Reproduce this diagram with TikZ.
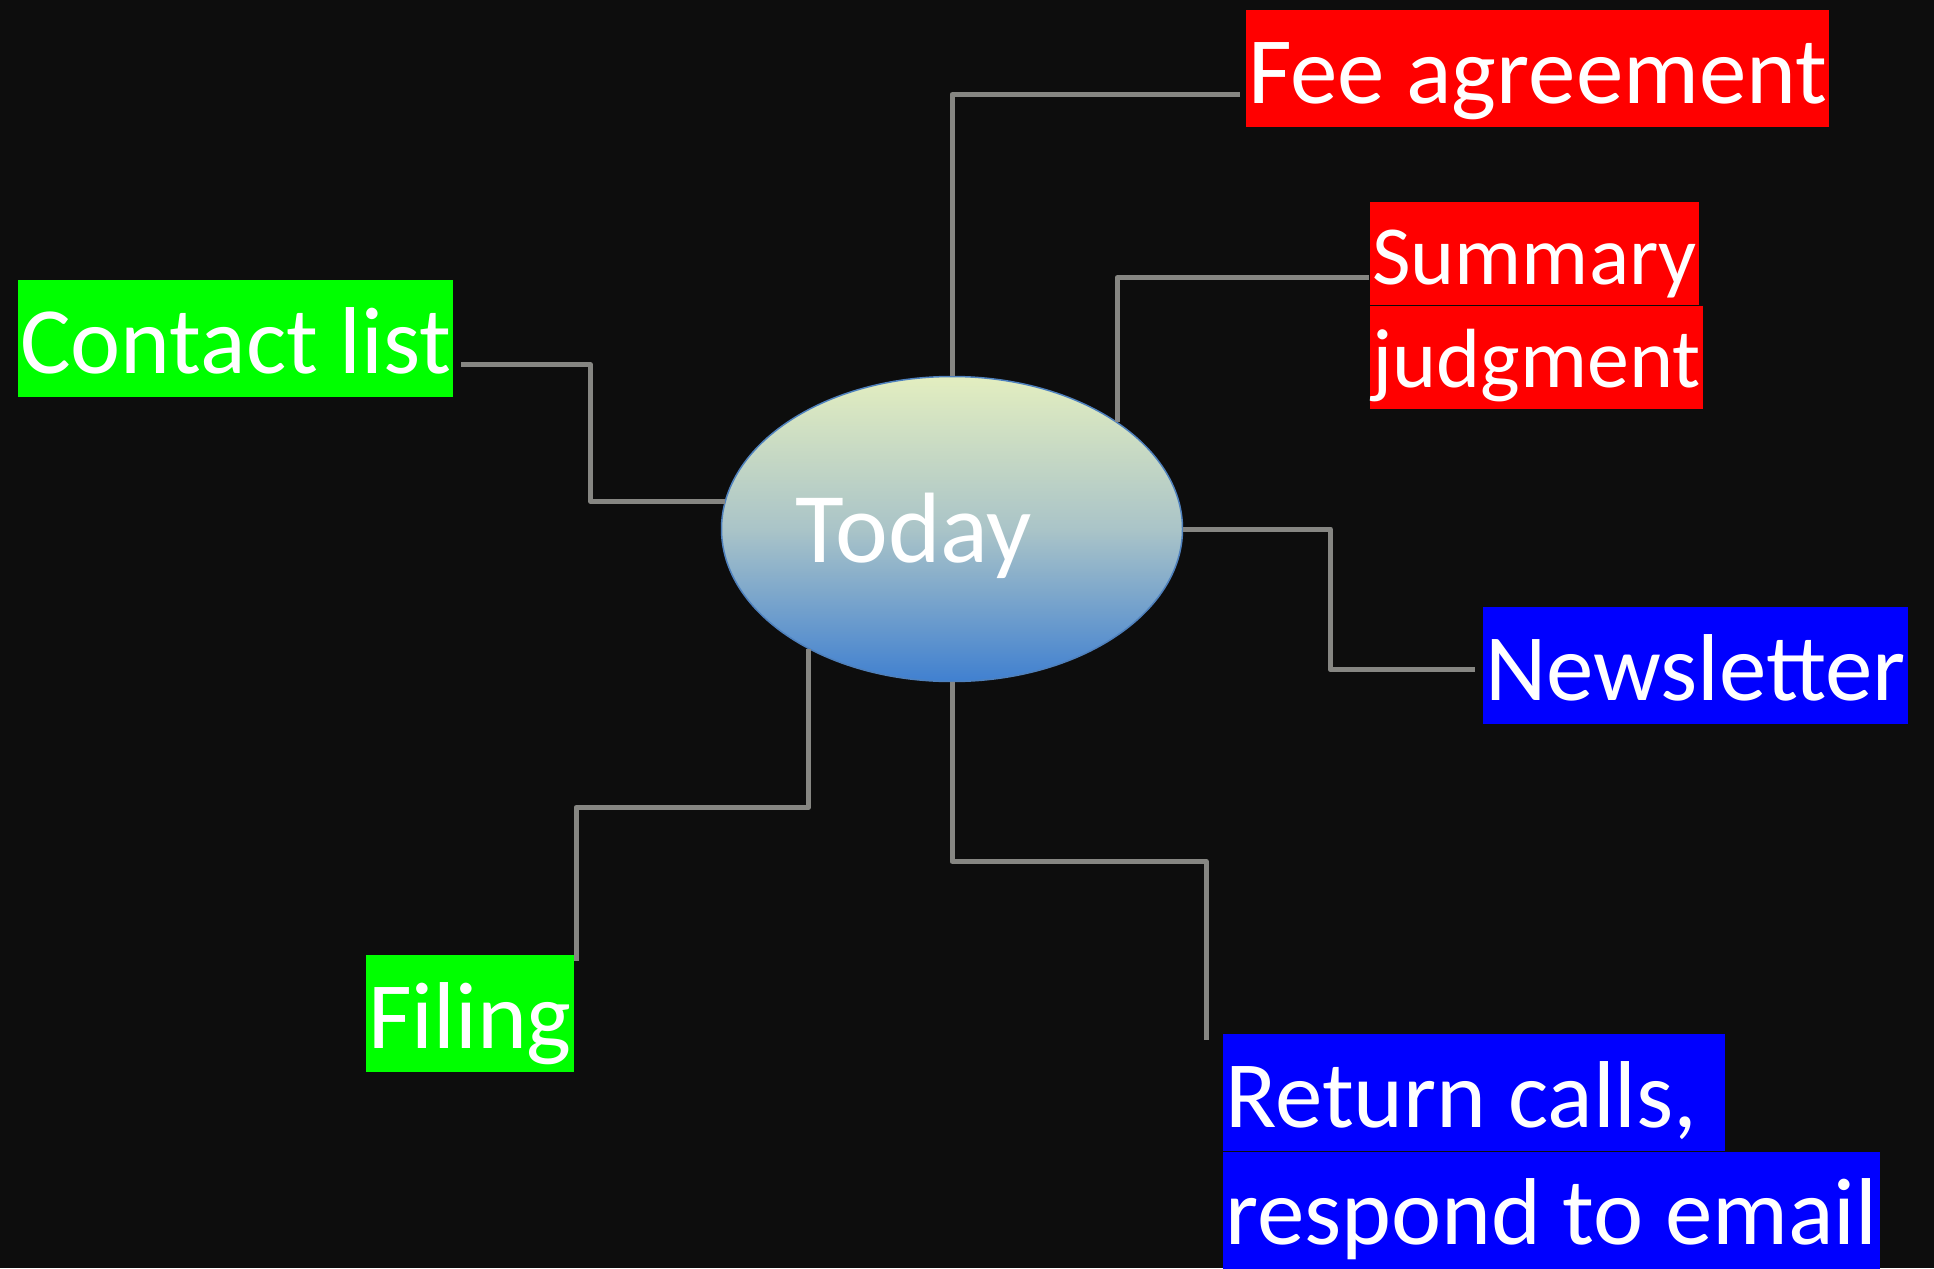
\documentclass[tikz,border=0pt]{standalone}
\usepackage{fontspec}
\setmainfont{Carlito}
\usetikzlibrary{shapes.geometric,positioning,calc}
\definecolor{bgdark}{HTML}{0D0D0D}
\definecolor{linkgray}{RGB}{134,134,130}
\definecolor{hubline}{RGB}{79,129,189}
\definecolor{hubtop}{RGB}{227,238,192}
\definecolor{hubmid}{RGB}{170,196,200}
\definecolor{hubbot}{RGB}{64,128,208}
\definecolor{hlred}{RGB}{255,0,0}
\definecolor{hlgreen}{RGB}{0,255,0}
\definecolor{hlblue}{RGB}{0,0,255}

\begin{document}
\begin{tikzpicture}[x=1pt,y=-1pt,
  hilite/.style={anchor=north west,inner xsep=2pt,inner ysep=0pt,
    text height=93pt,text depth=24pt,text=white,
    font=\fontsize{95}{114}\selectfont},
  hilitesm/.style={hilite,text height=82pt,text depth=21pt,
    font=\fontsize{84}{101}\selectfont},
  hub/.style={ellipse,draw=hubline,line width=1.5pt,inner sep=0pt,
    minimum width=461pt,minimum height=305pt,
    top color=hubtop,bottom color=hubbot,middle color=hubmid,
    text=white,font=\fontsize{100}{120}\selectfont},
  link/.style={draw=linkgray,line width=5pt,line join=round}]
\fill[bgdark] (0,0) rectangle (1934,1268);
\useasboundingbox (0,0) rectangle (1934,1268);

% centre
\node[hub] (today) at (952,529) {\raisebox{-33pt}[0pt][0pt]{Today}\kern76pt};

% topics
\node[hilite,fill=hlred] (fee) at (1246,10) {Fee agreement};
\node[hilitesm,fill=hlred] (sum1) at (1370,202) {Summary};
\node[hilitesm,fill=hlred] (sum2) at (sum1.south west) {judgment};
\node[hilite,fill=hlgreen] (contact) at (18,280) {Contact list};
\node[hilite,fill=hlblue] (news) at (1483,607) {Newsletter};
\node[hilite,fill=hlgreen] (filing) at (366,955) {Filing};
\node[hilite,fill=hlblue] (ret1) at (1223,1034) {Return calls,\kern26pt};
\node[hilite,fill=hlblue] (ret2) at (ret1.south west) {respond to email};

% links
\draw[link] (today.north) |- ([xshift=-6pt,yshift=-26pt]fee.west);
\draw[link] (today.33) |- ([xshift=-1pt,yshift=-24pt]sum1.west);
\draw[link] (today.east) -- ++(147,0) |- ([xshift=-8pt,yshift=-4pt]news.west);
\draw[link] (today.south) -- ++(0,179) -| ([xshift=-17pt,yshift=-6pt]ret1.north west);
\draw[link] (today.220) -- ++(0,158) -| ([xshift=2pt,yshift=-6pt]filing.north east);
\draw[link] ([xshift=8pt,yshift=-26pt]contact.east) -- ++(129,0) |- (today.173);
\end{tikzpicture}
\end{document}
